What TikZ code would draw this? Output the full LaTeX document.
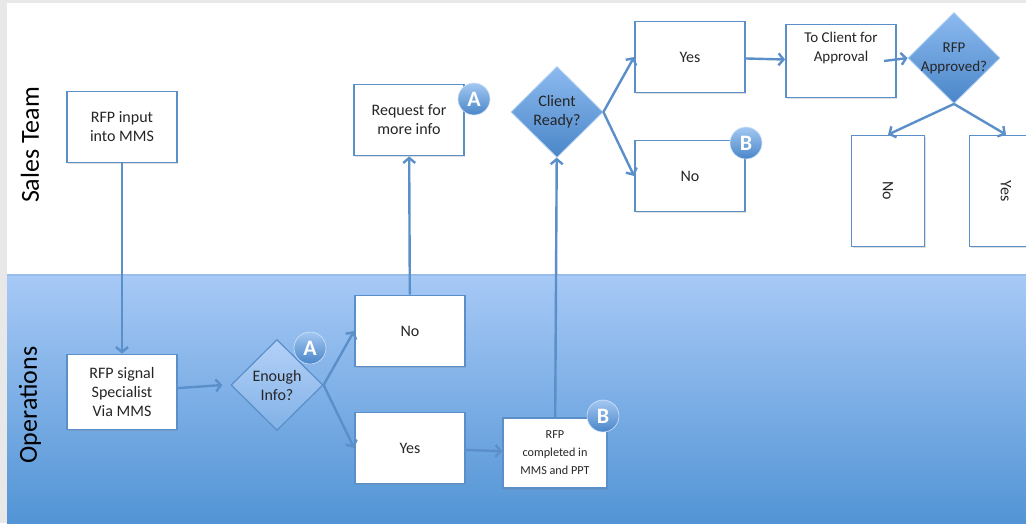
\documentclass[tikz,border=0pt]{standalone}
\usepackage{fontspec}
\setmainfont{Carlito}
\usetikzlibrary{shapes.geometric,arrows.meta,shadows}

\definecolor{lineblue}{HTML}{5B8FC9}
\definecolor{laneTop}{HTML}{A7C9F6}
\definecolor{laneBot}{HTML}{5294D5}
\definecolor{dmdTop}{HTML}{8CBAEF}
\definecolor{dmdBot}{HTML}{4A86C8}

\newcommand{\nowd}[1]{\makebox[0pt]{#1}}

\begin{document}
\begin{tikzpicture}[x=1pt, y=-1pt, font=\fontsize{16}{19}\selectfont]

\tikzstyle{box}=[rectangle, draw=lineblue, line width=1.8pt, fill=white, align=center,
  minimum width=110pt, minimum height=71pt, inner sep=2pt, text=black!85,
  drop shadow={opacity=0.25, shadow xshift=1pt, shadow yshift=-1.5pt}]
\tikzstyle{tallbox}=[box, minimum width=73pt, minimum height=111pt]
\tikzstyle{decision}=[diamond, draw=dmdTop!70!white, line width=0.8pt, top color=dmdTop,
  bottom color=dmdBot, align=center, inner sep=0pt, minimum width=92pt, minimum height=91pt,
  text=black!85]
\tikzstyle{paledecision}=[decision, draw=lineblue, line width=1.2pt, top color=laneTop!85!white, bottom color=laneTop!55!laneBot]
\tikzstyle{badge}=[circle, draw=white!60!dmdTop, line width=0.6pt, top color=dmdTop!80!white,
  bottom color=dmdBot, text=white, inner sep=0pt, minimum size=32pt,
  font=\fontsize{22}{22}\selectfont\bfseries]
\tikzstyle{lane}=[rotate=90, font=\fontsize{26}{26}\selectfont]
\tikzstyle{arrow}=[-{Straight Barb[length=5pt,width=12pt]}, draw=lineblue, line width=2.4pt]

\useasboundingbox (0,0) rectangle (1026,523);

% lanes
\fill [gray!18] (0,0) rectangle (1026,523);
\fill [white] (7,3) rectangle (1026,275);
\shade [top color=laneTop, bottom color=laneBot] (7,275) rectangle (1026,523);
\draw [laneTop!80!lineblue, line width=1.5pt] (7,275) -- (1026,275);

\node (L1) [lane] at (30,145) {Sales Team};
\node (L2) [lane] at (30,405) {Operations};

% sales team
\node (A) [box] at (122,127) {RFP input\\into MMS};
\node (B) [box] at (409,120) {Request for\\more info};
\node (C) [decision] at (557,112) {\nowd{Client}\\\nowd{Ready?}};
\node (D) [box] at (690,57) {Yes};
\node (E) [box] at (690,176) {No};
\node (F) [box, minimum height=73pt, text depth=28pt, font=\fontsize{15}{19}\selectfont] at (841,61) {To Client for\\Approval};
\node (G) [decision, font=\fontsize{15}{19}\selectfont] at (954,58) {\nowd{RFP}\\\nowd{Approved?}};
\node (H) [tallbox] at (888,191) {\rotatebox{-90}{No}};
\node (I) [tallbox] at (1006,191) {\rotatebox{-90}{Yes}};

% operations
\node (J) [box, minimum height=75pt] at (122,392) {RFP signal\\Specialist\\Via MMS};
\node (K) [paledecision] at (277,385) {\nowd{Enough}\\\nowd{Info?}};
\node (M) [box] at (410,331) {No};
\node (N) [box] at (410,448) {Yes};
\node (P) [box, minimum width=104pt, minimum height=70pt, font=\fontsize{12.2}{18}\selectfont] at (555,453) {RFP\\completed in\\MMS and PPT};

% markers
\node (bA1) [badge] at (474,99) {A};
\node (bA2) [badge] at (310,348) {A};
\node (bB1) [badge] at (746,143) {B};
\node (bB2) [badge] at (603,416) {B};

\draw [arrow] (A) -- (J);
\draw [arrow] (J) -- ([xshift=-8pt]K.west);
\draw [arrow] (K.east) -- (M.west);
\draw [arrow] (K.east) -- (N.west);
\draw [arrow] (M) -- (B);
\draw [arrow] (N) -- (P);
\draw [arrow] (P) -- (C);
\draw [arrow] (C.east) -- (D.west);
\draw [arrow] (C.east) -- (E.west);
\draw [arrow] (D) -- (F);
\draw [arrow] ([xshift=-13pt]F.east) -- (G.west);
\draw [arrow] (G.south) -- (H.north);
\draw [arrow] (G.south) -- (I.north);

\end{tikzpicture}
\end{document}
